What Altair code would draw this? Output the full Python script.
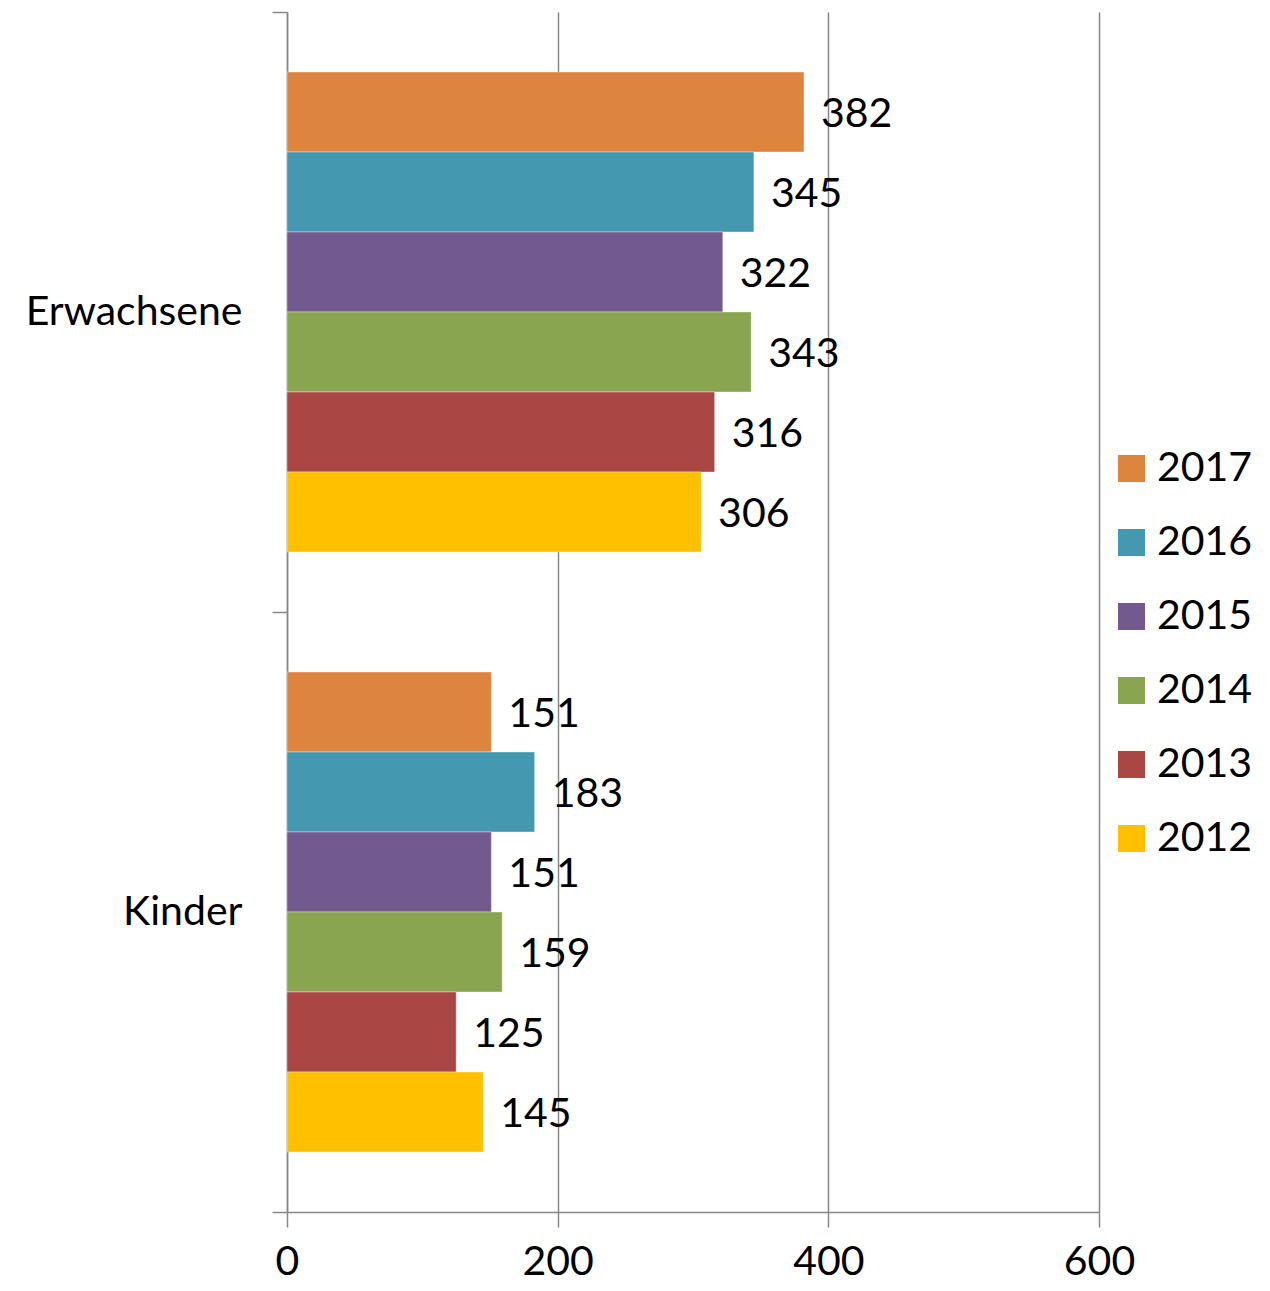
import altair as alt
import pandas as pd

categories = ["Erwachsene", "Kinder"]
years = ["2017", "2016", "2015", "2014", "2013", "2012"]
erwachsene = [382, 345, 322, 343, 316, 306]
kinder = [151, 183, 151, 159, 125, 145]
colors = ["#DD843F", "#4499B0", "#725A8E", "#8AA54F", "#AA4644", "#FFC000"]
x_ticks = [0, 200, 400, 600]

rows = []
for cat, vals in zip(categories, [erwachsene, kinder]):
    for y, v in zip(years, vals):
        rows.append({"cat": cat, "year": y, "value": v})
df = pd.DataFrame(rows)

FONT = "Lato"
FS = 41
GRAY = "#888888"

base = alt.Chart(df).encode(
    y=alt.Y("cat:N", sort=categories, title=None,
            scale=alt.Scale(paddingInner=0, paddingOuter=0),
            axis=alt.Axis(tickBand="extent", tickSize=15, labelPadding=30,
                          labelFontSize=FS, labelFont=FONT, labelColor="black",
                          labelLimit=0,
                          domainColor=GRAY, tickColor=GRAY, domainWidth=1.5,
                          tickWidth=1.5, grid=False)),
    yOffset=alt.YOffset("year:N", sort=years,
                        scale=alt.Scale(paddingInner=0, paddingOuter=0.75)),
    x=alt.X("value:Q", title=None,
            scale=alt.Scale(domain=[0, 600], nice=False),
            axis=alt.Axis(values=x_ticks, tickSize=15, labelPadding=15,
                          labelFlush=False,
                          labelFontSize=FS, labelFont=FONT, labelColor="black",
                          domainColor=GRAY, tickColor=GRAY, gridColor=GRAY,
                          domainWidth=1.5, tickWidth=1.5, gridWidth=1.5,
                          grid=True)),
)

bars = base.mark_bar(stroke="white", strokeWidth=0.6, strokeOpacity=0.6).encode(
    color=alt.Color("year:N", scale=alt.Scale(domain=years, range=colors),
                    title=None,
                    legend=alt.Legend(orient="none", legendX=824, legendY=436,
                                      symbolType="square", symbolSize=729,
                                      symbolStrokeWidth=0, labelFontSize=FS,
                                      labelFont=FONT, labelColor="black",
                                      labelOffset=5, rowPadding=32,
                                      labelLimit=0, padding=0))
)

labels = base.mark_text(align="left", baseline="middle", dx=17, dy=3,
                        fontSize=FS, font=FONT, color="black").encode(
    text=alt.Text("value:Q")
)

chart = alt.layer(bars, labels).properties(
    width=812, height=1200,
    autosize=alt.AutoSizeParams(type="none"),
    padding={"left": 279, "top": 4, "right": 158, "bottom": 72},
).configure_view(stroke=None)

chart.save("out.html", embed_options={"renderer": "svg", "actions": False})
